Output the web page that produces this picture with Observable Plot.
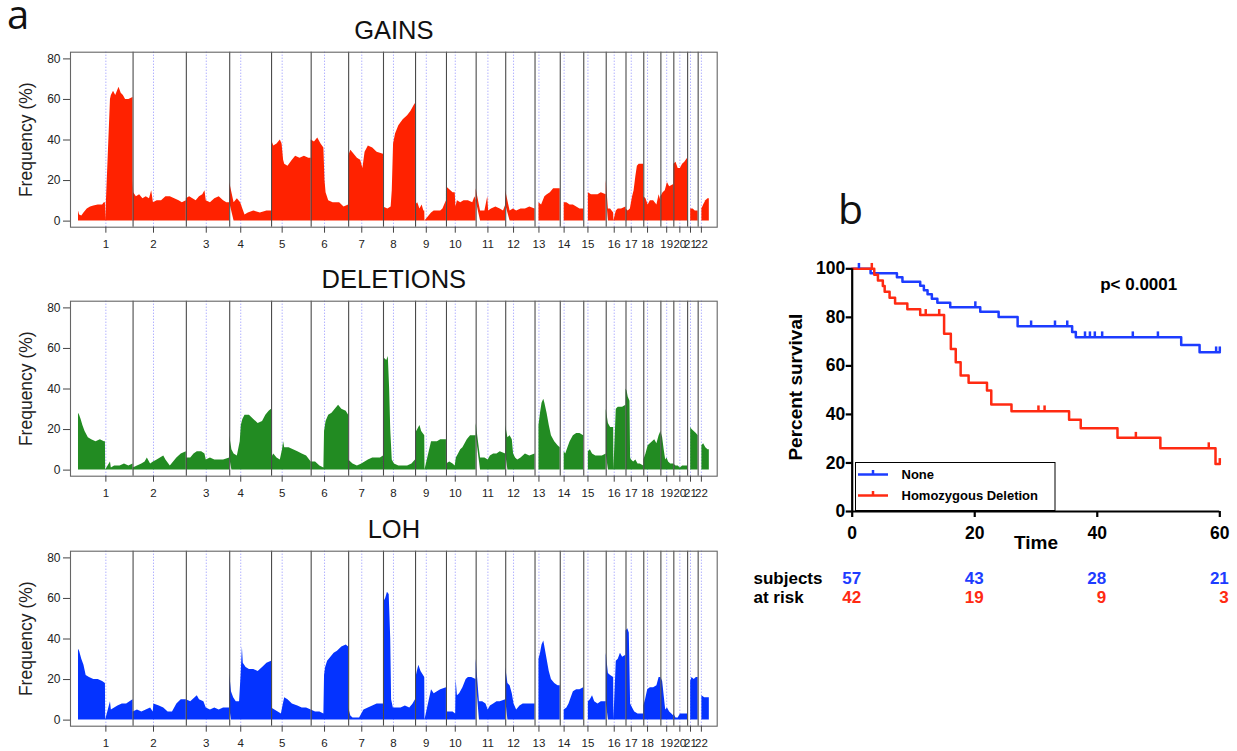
<!DOCTYPE html>
<html><head><meta charset="utf-8">
<script src="https://cdn.jsdelivr.net/npm/d3@7"></script>
<script src="https://cdn.jsdelivr.net/npm/@observablehq/plot@0.6"></script>
<style>
body{margin:0;background:#fff;}
#page{position:relative;width:1237px;height:751px;overflow:hidden;background:#fff;}
.abs{position:absolute;}
</style></head><body><div id="page"></div>
<script>
// ---------- genome layout (Mb) ----------
const chrLabels = ["1","2","3","4","5","6","7","8","9","10","11","12","13","14","15","16","17","18","19","20","21","22"];
const chrLen = [249.25,243.2,198.0,191.15,180.9,171.1,159.1,146.4,141.2,135.5,135.0,133.85,115.2,107.35,102.5,90.35,81.2,78.1,59.1,63.0,48.1,51.3];
const chrCen = [125,93.3,91,50.4,48.4,61,59.9,45.6,49,40.2,53.7,35.8,17.9,17.6,19,36.6,24,17.2,26.5,27.5,13.2,14.7];

// ---------- frequency profiles: per chromosome [local Mb, %] ----------
const gains = [
 [[0,5],[5,3],[15,2.5],[25,4],[40,6],[55,7],[70,7.5],[90,8],[110,8],[118,9],[123,9],[124,null],[146,60],[150,62],[160,64],[170,62],[185,66],[195,63],[205,62],[215,60],[230,60],[249,61]],
 [[0,20],[3,14],[15,12],[30,13],[45,11],[60,12],[75,11],[85,15],[93,9],[110,10],[130,10],[150,12],[170,12],[190,11],[210,10],[225,9],[243,10]],
 [[0,11],[15,12],[30,11],[45,10],[60,12],[75,13],[85,15],[91,10],[110,9],[130,11],[150,12],[170,10],[185,9],[198,9]],
 [[0,10],[20,9],[35,11],[50,9],[60,6],[70,3],[85,4],[110,5],[140,4],[170,5],[191,5]],
 [[0,40],[10,37],[25,38],[40,40],[48,38],[55,30],[60,28],[75,27],[95,30],[110,32],[130,31],[150,32],[170,31],[181,31]],
 [[0,40],[15,39],[30,41],[45,38],[58,36],[63,20],[68,14],[80,10],[100,9],[130,9],[150,7],[171,8]],
 [[0,32],[10,35],[25,33],[40,31],[55,30],[65,26],[75,34],[90,37],[110,36],[130,34],[159,33]],
 [[0,7],[20,6],[35,7],[40,15],[46,38],[55,43],[70,47],[90,50],[110,52],[125,54],[140,57],[146,58]],
 [[0,8],[10,9],[20,6],[30,8],[38,5],[42,5],[43,null],[73,4],[85,5],[100,5],[115,5],[125,6],[141,10]],
 [[0,17],[10,16],[20,15],[30,14],[40,14],[43,7],[50,10],[65,9],[80,10],[100,10],[120,9],[130,12],[135.5,10]],
 [[0,6],[20,5],[40,5],[53,12],[57,5],[70,6],[90,7],[110,6],[125,5],[135,8]],
 [[0,7],[20,5],[35,6],[50,5],[70,6],[90,6],[110,7],[134,6]],
 [[18,9],[30,8],[45,12],[56,13],[70,14],[85,16],[100,16],[115,16]],
 [[18,9],[30,9],[45,8],[60,8],[75,7],[90,6],[107,6]],
 [[21,14],[35,13],[50,13],[65,13],[80,14],[102.5,13]],
 [[0,7],[10,6],[20,6],[34,4],[35,null],[46,5],[55,6],[70,6],[90,7]],
 [[0,6],[10,5],[20,6],[25,9],[30,12],[37,15],[45,22],[52,27],[60,28],[70,28],[81,28]],
 [[0,12],[10,11],[20,8],[30,10],[45,10],[60,8],[70,13],[78,10]],
 [[0,12],[10,14],[20,15],[30,19],[40,17],[59,18]],
 [[0,28],[10,29],[20,26],[30,26],[40,28],[50,29],[63,31]],
 [[14,6],[25,6],[35,5],[48,5]],
 [[17,6],[25,8],[35,10],[45,11],[51,11]]
];
const deletions = [
 [[0,28],[5,27],[12,25],[20,22],[30,19],[45,16],[60,15],[80,14],[100,15],[118,14],[123,14],[124,null],[146,4],[150,1],[165,2],[190,2],[210,3],[230,2],[249,3]],
 [[0,1],[20,2],[40,3],[55,4],[65,6],[80,3],[93,4],[110,5],[140,7],[150,5],[170,2],[185,4],[200,6],[220,8],[243,9]],
 [[0,6],[20,6],[35,8],[50,9],[70,9],[85,8],[91,5],[110,6],[130,5],[150,5],[170,5],[198,6]],
 [[0,11],[10,10],[20,8],[35,7],[48,14],[53,22],[60,25],[70,27],[90,27],[110,25],[130,23],[150,24],[165,27],[180,29],[191,30]],
 [[0,6],[10,8],[25,6],[40,5],[50,10],[55,14],[60,11],[80,11],[100,10],[120,9],[140,8],[160,7],[181,4]],
 [[0,4],[20,4],[40,2],[58,1],[61,19],[68,24],[80,27],[95,28],[110,30],[125,32],[140,30],[160,29],[171,27]],
 [[0,5],[10,4],[20,3],[40,2],[60,3],[75,4],[90,5],[110,6],[130,6],[145,6],[159,7]],
 [[0,53],[5,55],[15,54],[22,56],[28,40],[33,20],[40,5],[50,3],[70,2],[90,2],[110,2],[130,3],[146,5]],
 [[0,18],[10,20],[20,22],[28,19],[42,17],[43,null],[73,14],[85,14],[100,14],[115,15],[141,15]],
 [[0,3],[15,4],[30,3],[40,2],[45,6],[55,8],[65,10],[75,11],[85,13],[95,15],[110,17],[125,17],[135.5,17]],
 [[0,6],[20,6],[40,6],[55,5],[65,7],[80,8],[95,8],[110,9],[135,8]],
 [[0,14],[10,16],[20,17],[30,15],[36,8],[45,6],[55,5],[70,6],[90,8],[110,7],[134,8]],
 [[18,22],[25,28],[32,33],[40,35],[45,33],[55,28],[65,22],[75,17],[90,14],[105,12],[115,11]],
 [[18,9],[25,8],[35,11],[45,14],[60,17],[75,18],[90,18],[107,17]],
 [[21,9],[30,10],[40,8],[55,7],[70,7],[85,7],[102.5,8]],
 [[0,22],[10,23],[20,21],[34,21],[35,null],[46,30],[55,31],[65,31],[75,31],[90,32]],
 [[0,40],[5,39],[10,36],[18,34],[21,6],[25,5],[35,4],[45,5],[55,3],[65,3],[81,2]],
 [[0,5],[10,8],[20,12],[30,13],[40,14],[50,15],[60,13],[70,17],[78,19]],
 [[0,19],[8,16],[15,10],[22,5],[28,6],[35,4],[45,3],[59,3]],
 [[0,3],[10,2],[20,2],[30,1],[40,2],[50,2],[63,2]],
 [[14,21],[20,20],[30,19],[40,18],[48,17]],
 [[17,12],[25,13],[35,11],[45,10],[51,10]]
];
const loh = [
 [[0,35],[5,34],[15,30],[25,27],[35,22],[50,21],[70,20],[90,20],[110,19],[123,18],[124,null],[146,9],[150,5],[165,6],[180,7],[200,8],[220,8],[235,9],[249,10]],
 [[0,4],[20,5],[40,4],[60,5],[80,6],[92,4],[95,8],[120,7],[140,6],[160,4],[180,4],[200,8],[220,10],[243,10]],
 [[0,10],[20,9],[40,11],[50,12],[60,10],[80,9],[91,6],[110,5],[130,6],[150,5],[170,6],[198,6]],
 [[0,17],[8,14],[18,11],[30,9],[45,9],[52,22],[58,36],[62,28],[75,26],[90,25],[110,25],[130,24],[150,26],[170,28],[191,29]],
 [[0,6],[15,5],[30,4],[45,3],[52,7],[60,11],[75,10],[95,8],[120,7],[140,6],[160,6],[181,5]],
 [[0,5],[20,4],[40,4],[58,3],[61,22],[66,26],[75,29],[90,31],[105,33],[120,34],[140,36],[160,37],[171,36]],
 [[0,6],[10,2],[20,1],[50,1],[60,3],[70,5],[90,6],[110,7],[130,8],[159,8]],
 [[0,58],[10,60],[18,63],[26,62],[33,40],[37,10],[45,6],[60,6],[80,6],[100,7],[120,6],[135,8],[146,10]],
 [[0,20],[8,24],[15,27],[25,24],[42,21],[43,null],[73,15],[85,13],[100,14],[115,15],[141,16]],
 [[0,4],[15,4],[30,4],[42,3],[44,20],[50,12],[60,13],[75,16],[90,20],[100,21],[115,21],[135.5,20]],
 [[0,10],[15,9],[30,9],[45,8],[55,5],[65,7],[80,8],[95,9],[110,9],[135,10]],
 [[0,16],[10,18],[20,17],[30,13],[38,8],[50,5],[65,7],[80,8],[100,8],[134,8]],
 [[18,30],[25,33],[32,37],[40,39],[45,36],[55,30],[65,24],[75,20],[90,18],[105,17],[115,17]],
 [[18,5],[30,6],[40,8],[50,11],[60,14],[75,15],[90,15],[107,16]],
 [[21,9],[30,10],[40,12],[50,9],[65,8],[80,9],[102.5,9]],
 [[0,24],[10,23],[20,22],[34,21],[35,null],[46,29],[55,30],[65,33],[75,31],[90,32]],
 [[0,44],[8,45],[15,43],[21,8],[30,6],[40,4],[55,3],[70,3],[81,3]],
 [[0,7],[8,10],[18,15],[30,16],[45,16],[60,17],[70,21],[78,21]],
 [[0,21],[8,19],[15,12],[22,5],[30,6],[40,4],[50,3],[59,2]],
 [[0,3],[10,1],[20,1],[30,3],[40,3],[50,3],[63,3]],
 [[14,19],[20,21],[30,20],[40,21],[48,21]],
 [[17,12],[30,11],[40,11],[51,11]]
];
const freqTicks = [0,20,40,60,80];

// ---------- survival (Kaplan-Meier) ----------
const noneTimes = [0,3.0,7.3,8.2,11.1,11.7,12.3,13.0,13.9,16.0,20.9,23.9,27.0,35.9,36.5,53.7,56.7,60];
const noneSurv  = [100,98.2,96.5,94.7,93.0,91.2,89.5,87.7,86.0,84.2,82.3,80.1,76.3,74.0,71.8,68.6,65.6,65.6];
const noneCensor = [1.1,20.1,29.2,33.1,35.1,38.0,38.8,39.6,40.8,45.8,49.9,59.4,60];
const hdTimes = [0,3.6,4.2,5.0,5.3,6.1,7.0,9.0,11.1,15.0,16.1,16.9,17.7,19.0,22.0,22.7,26.0,35.4,37.3,43.3,50.3,59.3,60];
const hdSurv  = [100,97.6,95.2,92.9,90.5,88.1,85.7,83.3,81.0,73.2,67.0,61.5,56.0,53.1,49.9,44.1,41.3,37.8,34.3,30.4,26.1,19.6,19.6];
const hdCensor = [3.2,12.0,14.2,30.4,31.4,46.3,58.2,60];
const riskTimes = [0,20,40,60];
const riskNone = [57,43,28,21];
const riskHD = [42,19,9,3];
const survTicksY = [0,20,40,60,80,100];

// ---------- build ----------
const page = document.getElementById("page");
const offsets = chrLen.map((_, i) => d3.sum(chrLen.slice(0, i)));
const cenPos = chrCen.map((c, i) => offsets[i] + c);
const bounds = chrLen.slice(0, 21).map((l, i) => offsets[i] + l);
const labelOf = new Map(cenPos.map((p, i) => [p, chrLabels[i]]));
const FONT = "'Liberation Sans', Arial, Helvetica, sans-serif";

function genomePanel(profile, color, title, top) {
  const rows = [];
  profile.forEach((pts, i) => pts.forEach(([p, v]) =>
    rows.push({chr: i + 1, x: offsets[i] + p, y: v == null ? NaN : v})));
  const svg = Plot.plot({
    width: 730, height: 250,
    marginLeft: 70, marginRight: 13.3, marginTop: 51.7, marginBottom: 23.3,
    x: {domain: [-36.5, 2916.5], axis: null},
    y: {domain: [-3, 83.3], axis: null},
    style: {fontFamily: FONT, fontSize: "12px", color: "#222", background: "transparent", overflow: "visible"},
    marks: [
      Plot.ruleX(cenPos, {stroke: "#8f8fff", strokeDasharray: "1,2", strokeWidth: 1}),
      Plot.areaY(rows, {x: "x", y: "y", z: "chr", fill: color}),
      Plot.ruleX(bounds, {stroke: "#4a4a4a", strokeWidth: 1.1}),
      Plot.frame({stroke: "#666", strokeWidth: 1.1}),
      Plot.axisY(freqTicks, {tickSize: 7, tickPadding: 3, fontSize: 12, label: null, stroke: "#444"}),
      Plot.axisX(cenPos, {tickSize: 6, tickPadding: 7, fontSize: 11.5, label: null, stroke: "#444",
        tickFormat: d => labelOf.get(d)}),
      Plot.text(["Frequency (%)"], {frameAnchor: "left", dx: -44, rotate: -90, textAnchor: "middle", lineAnchor: "middle", fontSize: 17.5, fill: "#222"}),
      Plot.text([title], {frameAnchor: "top", dy: -21, lineAnchor: "middle", fontSize: 25.5, fill: "#111"})
    ]
  });
  svg.classList.add("abs");
  svg.style.left = "0px"; svg.style.top = top + "px";
  page.appendChild(svg);
}
genomePanel(gains, "#ff2200", "GAINS", 0);
genomePanel(deletions, "#228b22", "DELETIONS", 249);
genomePanel(loh, "#0433ff", "LOH", 499);

const BLUE = "#1d3cff", RED = "#ff2a12";
const stepAt = (T, S, t) => { let s = S[0]; T.forEach((tt, i) => { if (tt <= t) s = S[i]; }); return s; };
const noneLine = noneTimes.map((t, i) => ({t, s: noneSurv[i]}));
const hdLine = hdTimes.map((t, i) => ({t, s: hdSurv[i]}));
const noneC = noneCensor.map(t => ({t, s: stepAt(noneTimes, noneSurv, t)}));
const hdC = hdCensor.map(t => ({t, s: stepAt(hdTimes, hdSurv, t)}));
const riskRows1 = riskTimes.map((t, i) => ({t, n: String(riskNone[i])}));
const riskRows2 = riskTimes.map((t, i) => ({t, n: String(riskHD[i])}));

const surv = Plot.plot({
  width: 497, height: 440,
  marginLeft: 111.7, marginRight: 17.7, marginTop: 88.3, marginBottom: 109,
  x: {domain: [0, 60], axis: null},
  y: {domain: [0, 100], axis: null},
  style: {fontFamily: FONT, fontSize: "17px", fontWeight: "bold", color: "#000", background: "transparent", overflow: "visible"},
  marks: [
    Plot.line(noneLine, {x: "t", y: "s", curve: "step-after", stroke: BLUE, strokeWidth: 2.5}),
    Plot.line(hdLine, {x: "t", y: "s", curve: "step-after", stroke: RED, strokeWidth: 2.5}),
    Plot.ruleX(noneC, {x: "t", y1: "s", y2: d => d.s + 2.2, stroke: BLUE, strokeWidth: 2.5}),
    Plot.ruleX(hdC, {x: "t", y1: "s", y2: d => d.s + 2.2, stroke: RED, strokeWidth: 2.5}),
    Plot.ruleX([0], {stroke: "#000", strokeWidth: 2.2}),
    Plot.ruleY([0], {stroke: "#000", strokeWidth: 2.2}),
    Plot.axisY(survTicksY, {tickSize: 6, tickPadding: 1, strokeWidth: 2.2, fontSize: 17.5, fontWeight: "bold", label: null}),
    Plot.axisX(riskTimes, {tickSize: 6, tickPadding: 9, strokeWidth: 2.2, fontSize: 17.5, fontWeight: "bold", label: null}),
    Plot.text(["Percent survival"], {frameAnchor: "left", dx: -56.7, dy: -3, rotate: -90, textAnchor: "middle", lineAnchor: "middle", fontSize: 19, fontWeight: "bold"}),
    Plot.text(["Time"], {frameAnchor: "bottom", dy: 24, lineAnchor: "top", fontSize: 19, fontWeight: "bold"}),
    Plot.text(["p< 0.0001"], {frameAnchor: "top-left", dx: 248, dy: 15.7, textAnchor: "start", lineAnchor: "middle", fontSize: 17, fontWeight: "bold"}),
    Plot.text(riskRows1, {x: "t", text: "n", frameAnchor: "bottom", dy: 66.6, dx: 9, textAnchor: "end", lineAnchor: "middle", fill: BLUE, fontSize: 17, fontWeight: "bold"}),
    Plot.text(riskRows2, {x: "t", text: "n", frameAnchor: "bottom", dy: 86.5, dx: 9, textAnchor: "end", lineAnchor: "middle", fill: RED, fontSize: 17, fontWeight: "bold"}),
    Plot.text(["subjects"], {frameAnchor: "bottom-left", dx: -98.7, dy: 66.6, textAnchor: "start", lineAnchor: "middle", fontSize: 17, fontWeight: "bold"}),
    Plot.text(["at risk"], {frameAnchor: "bottom-left", dx: -98.7, dy: 86.5, textAnchor: "start", lineAnchor: "middle", fontSize: 17, fontWeight: "bold"})
  ]
});
surv.classList.add("abs");
surv.style.left = "740px"; surv.style.top = "180px";
page.appendChild(surv);

// ---------- panel letters and survival legend ----------
const ns = "http://www.w3.org/2000/svg";
const ov = document.createElementNS(ns, "svg");
ov.setAttribute("width", 1237); ov.setAttribute("height", 751);
ov.setAttribute("class", "abs"); ov.style.left = "0px"; ov.style.top = "0px";
ov.innerHTML = `
  <text x="7" y="29" font-family="'Open Sans', sans-serif" font-size="40" fill="#111">a</text>
  <text x="838" y="223.5" font-family="'Open Sans', sans-serif" font-size="41" fill="#111">b</text>
  <g font-family="${FONT.replace(/"/g, "'")}" font-weight="bold" font-size="13" fill="#000">
    <rect x="855.5" y="462.5" width="199.5" height="48" fill="#fff" stroke="#000" stroke-width="1"/>
    <line x1="858" x2="888" y1="474.5" y2="474.5" stroke="${BLUE}" stroke-width="2.5"/>
    <line x1="873" x2="873" y1="474.5" y2="470" stroke="${BLUE}" stroke-width="2.5"/>
    <text x="901.5" y="479">None</text>
    <line x1="858" x2="888" y1="495.5" y2="495.5" stroke="${RED}" stroke-width="2.5"/>
    <line x1="873" x2="873" y1="495.5" y2="491" stroke="${RED}" stroke-width="2.5"/>
    <text x="901.5" y="500">Homozygous Deletion</text>
  </g>`;
page.appendChild(ov);
</script></body></html>
